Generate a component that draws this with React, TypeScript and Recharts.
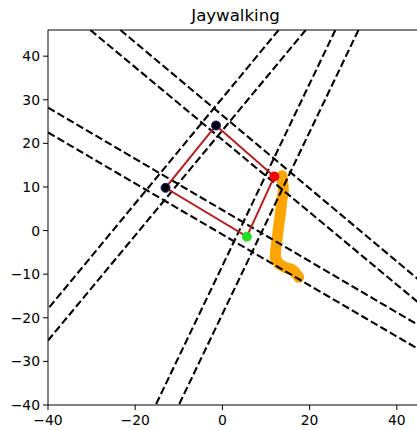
import React from 'react';
import { ComposedChart, XAxis, YAxis, ReferenceLine, Line, Scatter } from 'recharts';

const xTicks = [-40, -20, 0, 20, 40];
const yTicks = [-40, -30, -20, -10, 0, 10, 20, 30, 40];
const axisMin = -40;
const axisMax = 46;

// dashed guide lines: start and end points (data units)
const guideStartX = [-30.3, -23.4, -40, -40, 12.9, 19.1, 25.9, 31.2];
const guideStartY = [46, 46, 28.2, 22.5, 46, 46, 46, 46];
const guideEndX = [46, 46, 46, 46, -40, -40, -15.3, -10.0];
const guideEndY = [-17.4, -12.1, -22.3, -27.8, -17.96, -25.2, -40, -40];

// orange walking trail
const trailX = [13.65, 14.0, 13.6, 13.3, 12.9, 12.5, 12.2, 12.1, 12.9, 14.4, 15.9, 16.7, 17.5];
const trailY = [12.6, 9.2, 6.9, 3.9, 1.1, -2.3, -4.6, -6.2, -7.6, -8.5, -8.9, -9.6, -10.7];

// quadrilateral corners (top, right, bottom, left)
const cornerX = [-1.47, 11.9, 5.6, -13.05];
const cornerY = [24.1, 12.4, -1.4, 9.8];
const cornerFill = ['#000000', '#ff0000', '#22dd22', '#000000'];
const cornerStroke = ['#1a1a8c', '#cc0000', '#22dd22', '#1a1a8c'];

const trailData = trailX.map((x, i) => ({ x, y: trailY[i] }));
const polyData = [...cornerX, cornerX[0]].map((x, i) => ({ x, y: [...cornerY, cornerY[0]][i] }));

const fmt = (v: number) => (v < 0 ? '\u2212' + Math.abs(v) : String(v));
const font = 'DejaVu Sans, sans-serif';

export default function App() {
  return (
    <div style={{ position: 'absolute', left: 0, top: 0, width: 417, height: 430, overflow: 'hidden', background: '#fff' }}>
      <div
        style={{
          position: 'absolute',
          left: 48,
          top: 8,
          width: 375,
          textAlign: 'center',
          fontFamily: font,
          fontSize: 16.6,
          lineHeight: '16.6px',
          color: '#000',
        }}
      >
        Jaywalking
      </div>
      <ComposedChart width={430} height={430} margin={{ top: 30, right: 7, bottom: 0, left: 0 }}>
        <XAxis
          type="number"
          dataKey="x"
          domain={[axisMin, axisMax]}
          allowDataOverflow
          ticks={xTicks}
          tickFormatter={fmt}
          height={25}
          tickSize={5}
          tickMargin={5}
          stroke="#000"
          tick={{ fill: '#000', fontSize: 13.9, fontFamily: font }}
        />
        <YAxis
          type="number"
          dataKey="y"
          domain={[axisMin, axisMax]}
          allowDataOverflow
          ticks={yTicks}
          tickFormatter={fmt}
          width={48}
          tickSize={5}
          tickMargin={3}
          stroke="#000"
          tick={{ fill: '#000', fontSize: 13.9, fontFamily: font }}
        />
        <ReferenceLine y={axisMax} stroke="#000" strokeWidth={1} />
        <Line
          data={trailData}
          dataKey="y"
          stroke="#ffa500"
          strokeWidth={11}
          strokeLinecap="round"
          strokeLinejoin="round"
          dot={false}
          activeDot={false}
          isAnimationActive={false}
          type="linear"
        />
        {guideStartX.map((sx, i) => (
          <ReferenceLine
            key={i}
            segment={[
              { x: sx, y: guideStartY[i] },
              { x: guideEndX[i], y: guideEndY[i] },
            ]}
            stroke="#000"
            strokeWidth={2.1}
            strokeDasharray="7.7 3.3"
            ifOverflow="hidden"
          />
        ))}
        <Line
          data={polyData}
          dataKey="y"
          stroke="#b22222"
          strokeWidth={2}
          dot={false}
          activeDot={false}
          isAnimationActive={false}
          type="linear"
        />
        {cornerX.map((cx, i) => (
          <Scatter
            key={'c' + i}
            data={[{ x: cx, y: cornerY[i] }]}
            dataKey="y"
            isAnimationActive={false}
            shape={(p: any) => (
              <circle cx={p.cx} cy={p.cy} r={4.5} fill={cornerFill[i]} stroke={cornerStroke[i]} strokeWidth={1} />
            )}
          />
        ))}
      </ComposedChart>
    </div>
  );
}
